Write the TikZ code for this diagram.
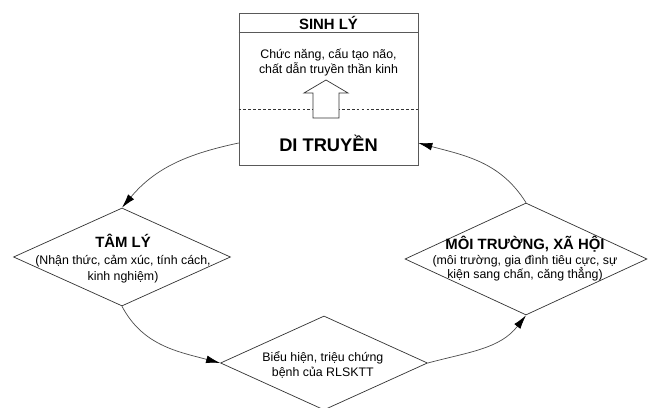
\documentclass[tikz,border=0pt]{standalone}
\usepackage{fontspec}
\setmainfont{Liberation Sans}
\usetikzlibrary{shapes.geometric,arrows.meta}

\begin{document}
\begin{tikzpicture}[
  txt/.style={align=center,font=\fontsize{8.8}{10.4}\selectfont},
  head/.style={font=\bfseries\fontsize{10.6}{12.4}\selectfont},
  state/.style={diamond,draw=black!80,line width=.5pt,inner sep=0pt},
  flow/.style={draw=black!70,line width=.5pt,-{Latex[length=10pt,width=5.5pt,black]}}]
\useasboundingbox (0,0) rectangle (16.3,10.2);
\fill[white] (0,0) rectangle (16.3,10.2);
% khung sinh ly / di truyen
\node[draw=black!65,line width=.6pt,minimum width=4.475cm,minimum height=3.8cm] (box) at (8.2125,7.975) {};
\draw[black!65,line width=.6pt] ([yshift=-.5cm]box.north west) -- ([yshift=-.5cm]box.north east);
\draw[black!80,line width=.4pt,dash pattern=on 2pt off 1.5pt] ([yshift=-2.425cm]box.north west) -- ([yshift=-2.425cm]box.north east);
\node[head] (sinhly) at (8.2125,9.625) {SINH LÝ};
\node[txt] (chucnang) at (8.2125,8.64) {Chức năng, cấu tạo não,\\chất dẫn truyền thần kinh};
\draw[black!80,fill=white,line width=.5pt] (7.825,7.25) -- (7.825,7.875) -- (7.6,7.875) -- (8.15,8.2)
  -- (8.7,7.875) -- (8.475,7.875) -- (8.475,7.25) -- cycle;
\node[font=\bfseries\fontsize{13}{15}\selectfont,minimum width=4.475cm,inner xsep=0pt] (ditruyen) at (8.2125,6.625) {DI TRUYỀN};
% ba hinh thoi
\node[state,minimum width=5.425cm,minimum height=2.45cm] (tamly) at (3.05,3.775) {};
\node[txt,font=\fontsize{8.8}{11.6}\selectfont] (tamlytext) at (3.075,3.73) {{\bfseries\fontsize{10.6}{12.4}\selectfont TÂM LÝ}\\(Nhận thức, cảm xúc, tính cách,\\kinh nghiệm)};
\node[state,minimum width=6.05cm,minimum height=2.8cm] (moitruong) at (13.15,3.725) {};
\node[txt] (moitruongtext) at (13.125,3.73) {{\bfseries\fontsize{10.6}{12.4}\selectfont MÔI TRƯỜNG, XÃ HỘI}\\(môi trường, gia đình tiêu cực, sự\\kiện sang chấn, căng thẳng)};
\node[state,minimum width=5.175cm,minimum height=2.35cm] (bieuhien) at (8.1,1.125) {};
\node[txt] (bieuhientext) at (8.07,1.08) {Biểu hiện, triệu chứng\\bệnh của RLSKTT};
% mui ten vong
\draw[flow] (ditruyen.west) to[out=192,in=50] (tamly.north);
\draw[flow] (tamly.south) to[out=-62,in=165] (bieuhien.west);
\draw[flow] (bieuhien.east) to[out=15,in=232] (moitruong.south);
\draw[flow] (moitruong.north) to[out=122,in=-15] (ditruyen.east);
\end{tikzpicture}
\end{document}
